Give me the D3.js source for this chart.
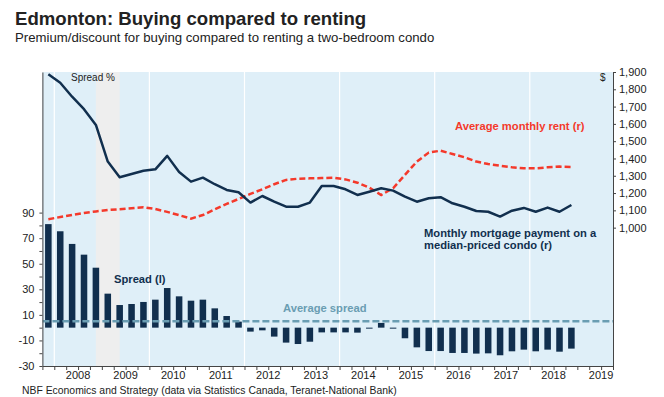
<!DOCTYPE html>
<html>
<head>
<meta charset="utf-8">
<script src="https://cdn.jsdelivr.net/npm/d3@7"></script>
<style>
  html, body { margin: 0; padding: 0; background: #fff; }
  svg { display: block; font-family: "Liberation Sans", Arial, sans-serif; }
</style>
</head>
<body>
<svg id="chart" width="664" height="397"></svg>
<script>
// ---- Data (quarterly, 2007Q4 .. 2018Q4) ----
const firstQuarter = "2007Q4";
const spreadPct = [81, 75.4, 65.5, 57.1, 46.9, 26.6, 17.7, 18.5, 20.1, 21.9,
  31.0, 24.5, 21.1, 21.9, 15.1, 9.1, 4.7, -3.1, -2.1, -7.0,
  -11.7, -12.8, -11.0, -3.7, -3.7, -3.7, -3.9, -0.6, 3.7, -0.6,
  -8.3, -15.4, -18.3, -18.3, -19.8, -19.8, -20.3, -20.1, -21.6, -18.5,
  -17.2, -18.5, -17.2, -18.8, -16.4];
const mortgagePayment = [1887, 1838, 1757, 1685, 1594, 1382, 1291, 1310, 1329, 1337,
  1415, 1322, 1266, 1289, 1251, 1218, 1205, 1145, 1183, 1150,
  1121, 1121, 1145, 1241, 1241, 1222, 1189, 1208, 1228, 1214,
  1179, 1150, 1170, 1176, 1141, 1121, 1096, 1092, 1064, 1098,
  1114, 1092, 1116, 1092, 1131];
const averageRent = [1049, 1061, 1073, 1085, 1094, 1102, 1106, 1112, 1118, 1108,
  1091, 1072, 1052, 1073, 1106, 1137, 1166, 1195, 1222, 1251,
  1276, 1283, 1285, 1287, 1289, 1279, 1260, 1231, 1189, 1228,
  1305, 1382, 1434, 1445, 1426, 1407, 1382, 1368, 1358, 1349,
  1343, 1343, 1349, 1353, 1351];
const averageSpread = 5.1;
const yearLabels = ["2008","2009","2010","2011","2012","2013","2014","2015","2016","2017","2018","2019"];
const gridYears = [2008, 2010, 2012, 2014, 2016, 2018];
const leftTicks = [-30,-20,-10,0,10,20,30,40,50,60,70,80,90];
const leftLabels = [-30,-10,10,30,50,70,90];
const rightTicks = [1000,1100,1200,1300,1400,1500,1600,1700,1800,1900];
const shadeStart = "2008Q4", shadeEnd = "2009Q2";

// quarter categories for the axis (2007Q4 .. 2019Q3)
const quarters = ["2007Q4"];
yearLabels.forEach(y => ["Q1","Q2","Q3","Q4"].forEach(q => quarters.push(y + q)));
const axisQuarters = quarters.slice(0, quarters.indexOf("2019Q3") + 1);
const dataQuarters = axisQuarters.slice(0, spreadPct.length);

// ---- Layout ----
const svg = d3.select("#chart");
const X0 = 42.4, X1 = 613, Y0 = 72, Y1 = 366;
const navy = "#112f4e", red = "#f4392b", teal = "#6a9db2";

const x = d3.scaleBand().domain(axisQuarters).range([X0, X1]).paddingInner(0.45).paddingOuter(0.225);
const xc = q => x(q) + x.bandwidth() / 2;
const xt = d3.scaleLinear().domain([2007.75, 2019.75]).range([X0, X1]);
const yL = d3.scaleLinear().domain([-30, 200]).range([Y1, Y0]);
const yR = d3.scaleLinear().domain([200, 1900]).range([Y1, Y0]);

svg.append("rect").attr("width", 664).attr("height", 397).attr("fill", "#fff");

// plot background
svg.append("rect").attr("x", X0).attr("y", Y0).attr("width", X1 - X0).attr("height", Y1 - Y0).attr("fill", "#dfeff8");
svg.append("rect").attr("x", xc(shadeStart)).attr("y", Y0).attr("width", xc(shadeEnd) - xc(shadeStart))
  .attr("height", Y1 - Y0).attr("fill", "#eeeeee");

// gridlines
svg.append("g").selectAll("line").data(gridYears).join("line")
  .attr("x1", d => xt(d)).attr("x2", d => xt(d)).attr("y1", Y0).attr("y2", Y1)
  .attr("stroke", "#fff").attr("stroke-width", 1.2);

const clip = svg.append("clipPath").attr("id", "plotclip").append("rect")
  .attr("x", X0).attr("y", Y0).attr("width", X1 - X0).attr("height", Y1 - Y0);
const plot = svg.append("g").attr("clip-path", "url(#plotclip)");

// bars
plot.append("g").selectAll("rect").data(spreadPct).join("rect")
  .attr("x", (d, i) => x(dataQuarters[i]))
  .attr("width", x.bandwidth())
  .attr("y", d => yL(Math.max(0, d)))
  .attr("height", d => Math.max(1, Math.abs(yL(d) - yL(0))))
  .attr("fill", navy);

// average spread
plot.append("line").attr("x1", X0).attr("x2", X1)
  .attr("y1", yL(averageSpread)).attr("y2", yL(averageSpread))
  .attr("stroke", teal).attr("stroke-width", 2.5).attr("stroke-dasharray", "7,3");

// lines
const line = d3.line().x((d, i) => xc(dataQuarters[i])).y(d => yR(d));
plot.append("path").datum(averageRent).attr("d", line).attr("fill", "none")
  .attr("stroke", red).attr("stroke-width", 2.5).attr("stroke-dasharray", "6,3");
plot.append("path").datum(mortgagePayment).attr("d", line).attr("fill", "none")
  .attr("stroke", navy).attr("stroke-width", 2.5).attr("stroke-linejoin", "round");

// axes
const axisColor = "#444", labelColor = "#222";
function styleAxis(g) {
  g.selectAll("path, line").attr("stroke", axisColor);
  g.selectAll("text").attr("fill", labelColor).attr("font-size", 11)
    .attr("font-family", '"Liberation Sans", Arial, sans-serif');
}
svg.append("g").attr("transform", `translate(${X0},0)`)
  .call(d3.axisLeft(yL).tickValues(leftTicks).tickSize(3).tickSizeOuter(0).tickPadding(5)
    .tickFormat(d => leftLabels.includes(d) ? d : ""))
  .call(styleAxis);
svg.append("g").attr("transform", `translate(${X1},0)`)
  .call(d3.axisRight(yR).tickValues(rightTicks).tickSize(3).tickSizeOuter(0).tickPadding(3)
    .tickFormat(d3.format(",")))
  .call(styleAxis);
svg.append("g").attr("transform", `translate(0,${Y1})`)
  .call(d3.axisBottom(xt).tickValues(d3.range(axisQuarters.length + 1).map(i => 2007.75 + i * 0.25))
    .tickSize(4).tickSizeOuter(0).tickFormat(""))
  .call(styleAxis);
svg.append("g").selectAll("text").data(yearLabels).join("text")
  .attr("x", d => xt(+d + 0.5)).attr("y", 379).attr("text-anchor", "middle")
  .attr("font-size", 11).attr("fill", labelColor).text(d => d);

// titles
svg.append("text").attr("x", 15).attr("y", 25).attr("font-size", 18.6).attr("font-weight", "bold")
  .attr("fill", "#222").text("Edmonton: Buying compared to renting");
svg.append("text").attr("x", 15).attr("y", 41.5).attr("font-size", 13.2)
  .attr("fill", "#222").text("Premium/discount for buying compared to renting a two-bedroom condo");
svg.append("text").attr("x", 22).attr("y", 394).attr("font-size", 10.4)
  .attr("fill", "#222").text("NBF Economics and Strategy (data via Statistics Canada, Teranet-National Bank)");

// annotations
svg.append("text").attr("x", 71).attr("y", 81).attr("font-size", 10).attr("fill", "#222").text("Spread %");
svg.append("text").attr("x", 600).attr("y", 81).attr("font-size", 10).attr("fill", "#222").text("$");
svg.append("text").attr("x", 455).attr("y", 130).attr("font-size", 11.2).attr("font-weight", "bold")
  .attr("fill", red).text("Average monthly rent (r)");
svg.append("text").attr("x", 424).attr("y", 237).attr("font-size", 11.2).attr("font-weight", "bold")
  .attr("fill", navy).text("Monthly mortgage payment on a");
svg.append("text").attr("x", 424).attr("y", 249).attr("font-size", 11.2).attr("font-weight", "bold")
  .attr("fill", navy).text("median-priced condo (r)");
svg.append("text").attr("x", 114).attr("y", 283).attr("font-size", 11.2).attr("font-weight", "bold")
  .attr("fill", navy).text("Spread (l)");
svg.append("text").attr("x", 283).attr("y", 312).attr("font-size", 11.2).attr("font-weight", "bold")
  .attr("fill", teal).text("Average spread");
</script>
</body>
</html>
